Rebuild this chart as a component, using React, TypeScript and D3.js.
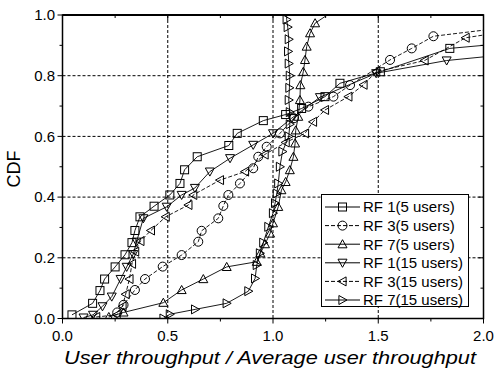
import React from "react";
import * as d3 from "d3";

const seriesNames = [
  "RF 1(5 users)",
  "RF 3(5 users)",
  "RF 7(5 users)",
  "RF 1(15 users)",
  "RF 3(15 users)",
  "RF 7(15 users)",
];

const rf1_5x = [0.045, 0.143, 0.178, 0.2, 0.25, 0.297, 0.33, 0.344, 0.368, 0.435, 0.51, 0.558, 0.58, 0.64, 0.79, 0.83, 0.954, 1.06, 1.136, 1.247, 1.318, 1.51, 1.84, 2.0];
const rf1_5y = [0.012, 0.05, 0.092, 0.13, 0.17, 0.21, 0.25, 0.29, 0.335, 0.37, 0.407, 0.445, 0.49, 0.533, 0.57, 0.61, 0.652, 0.672, 0.692, 0.731, 0.775, 0.813, 0.89, 0.9];

const rf3_5x = [0.26, 0.29, 0.344, 0.392, 0.476, 0.566, 0.645, 0.661, 0.74, 0.764, 0.788, 0.843, 0.906, 0.93, 0.97, 1.033, 1.1, 1.168, 1.287, 1.366, 1.556, 1.659, 1.762, 2.0];
const rf3_5y = [0.02, 0.045, 0.094, 0.13, 0.171, 0.209, 0.253, 0.289, 0.33, 0.371, 0.407, 0.445, 0.495, 0.533, 0.566, 0.61, 0.66, 0.698, 0.731, 0.769, 0.852, 0.89, 0.93, 0.95];

const rf7_5x = [0.22, 0.29, 0.479, 0.566, 0.669, 0.78, 0.923, 0.94, 0.962, 0.986, 1.0, 1.025, 1.04, 1.06, 1.08, 1.097, 1.105, 1.108, 1.12, 1.128, 1.13, 1.144, 1.152, 1.16, 1.176, 1.2, 1.258];
const rf7_5y = [0.005, 0.02, 0.052, 0.094, 0.13, 0.17, 0.187, 0.215, 0.245, 0.28, 0.314, 0.368, 0.423, 0.45, 0.489, 0.533, 0.577, 0.62, 0.665, 0.72, 0.769, 0.813, 0.852, 0.896, 0.94, 0.973, 1.0];

const rf1_15x = [0.1, 0.145, 0.19, 0.234, 0.276, 0.305, 0.336, 0.352, 0.384, 0.495, 0.566, 0.629, 0.7, 0.796, 0.906, 1.0, 1.089, 1.223, 1.49, 1.825, 2.0];
const rf1_15y = [0.003, 0.012, 0.04, 0.072, 0.13, 0.17, 0.212, 0.253, 0.33, 0.368, 0.407, 0.43, 0.484, 0.528, 0.572, 0.61, 0.66, 0.729, 0.808, 0.85, 0.862];

const rf3_15x = [0.16, 0.257, 0.285, 0.3, 0.318, 0.33, 0.345, 0.37, 0.42, 0.49, 0.598, 0.621, 0.748, 0.867, 0.96, 1.06, 1.152, 1.19, 1.247, 1.358, 1.43, 1.49, 1.72, 1.915, 2.0];
const rf3_15y = [0.005, 0.012, 0.04, 0.08, 0.13, 0.18, 0.22, 0.255, 0.29, 0.335, 0.374, 0.407, 0.456, 0.484, 0.54, 0.58, 0.61, 0.648, 0.687, 0.731, 0.77, 0.813, 0.85, 0.925, 0.934];

const rf7_15x = [0.48, 0.51, 0.63, 0.78, 0.883, 0.915, 0.923, 0.938, 0.954, 0.978, 1.0, 1.01, 1.018, 1.025, 1.033, 1.045, 1.075, 1.08, 1.08, 1.075, 1.078, 1.08, 1.075, 1.072, 1.075, 1.07, 1.065, 1.065];
const rf7_15y = [0.0, 0.014, 0.03, 0.05, 0.09, 0.132, 0.176, 0.215, 0.25, 0.302, 0.347, 0.38, 0.412, 0.445, 0.5, 0.55, 0.6, 0.64, 0.68, 0.72, 0.76, 0.8, 0.84, 0.88, 0.92, 0.96, 0.985, 1.0];

const seriesX = [rf1_5x, rf3_5x, rf7_5x, rf1_15x, rf3_15x, rf7_15x];
const seriesY = [rf1_5y, rf3_5y, rf7_5y, rf1_15y, rf3_15y, rf7_15y];
const markerKinds = ["square", "circle", "up", "down", "left", "right"];
const dashed = [false, true, false, false, true, false];

const xTicks = [0, 0.5, 1.0, 1.5, 2.0];
const xMinor = [0.25, 0.75, 1.25, 1.75];
const yTicks = [0, 0.2, 0.4, 0.6, 0.8, 1.0];
const yMinor = [0.1, 0.3, 0.5, 0.7, 0.9];

const W = 494, H = 372;
const L = 62.5, R = 483.5, T = 15, B = 318.5;

function Marker({ kind, x, y }: { kind: string; x: number; y: number }) {
  const s = 4.5;
  const common = { fill: "none", stroke: "#000", strokeWidth: 1 };
  if (kind === "square") return <rect x={x - 4} y={y - 4} width={8} height={8} {...common} />;
  if (kind === "circle") return <circle cx={x} cy={y} r={4.5} {...common} />;
  let pts: [number, number][] = [];
  if (kind === "up") pts = [[x, y - s], [x - s, y + s * 0.8], [x + s, y + s * 0.8]];
  if (kind === "down") pts = [[x, y + s], [x - s, y - s * 0.8], [x + s, y - s * 0.8]];
  if (kind === "left") pts = [[x - s, y], [x + s * 0.8, y - s], [x + s * 0.8, y + s]];
  if (kind === "right") pts = [[x + s, y], [x - s * 0.8, y - s], [x - s * 0.8, y + s]];
  return <polygon points={pts.map((p) => p.join(",")).join(" ")} {...common} />;
}

export default function App() {
  const x = d3.scaleLinear().domain([0, 2]).range([L, R]);
  const y = d3.scaleLinear().domain([0, 1]).range([B, T]);
  const line = d3
    .line<[number, number]>()
    .x((d) => x(d[0]))
    .y((d) => y(d[1]));
  const font = "Liberation Sans, Arial, sans-serif";

  return (
    <svg width={W} height={H} style={{ position: "absolute", left: 0, top: 0, background: "#fff" }} fontFamily={font}>
      <rect x={0} y={0} width={W} height={H} fill="#fff" />
      {/* grid */}
      {[0.5, 1.0, 1.5].map((v) => (
        <line key={"gx" + v} x1={x(v)} x2={x(v)} y1={T} y2={B} stroke="#000" strokeWidth={1} strokeDasharray="3,2" />
      ))}
      {[0.2, 0.4, 0.6, 0.8].map((v) => (
        <line key={"gy" + v} x1={L} x2={R} y1={y(v)} y2={y(v)} stroke="#000" strokeWidth={1} strokeDasharray="3,2" />
      ))}
      <defs>
        <clipPath id="plotclip">
          <rect x={L} y={T} width={R - L} height={B - T} />
        </clipPath>
      </defs>
      {/* series */}
      <g clipPath="url(#plotclip)">
        {seriesX.map((xs, i) => {
          const pts: [number, number][] = xs.map((v, j) => [v, seriesY[i][j]]);
          return (
            <g key={"s" + i}>
              <path d={line(pts) || ""} fill="none" stroke="#000" strokeWidth={0.9} strokeDasharray={dashed[i] ? "4,2" : undefined} />
              {pts
                .filter((p) => p[0] < 1.99 && p[1] < 0.999)
                .map((p, j) => (
                  <Marker key={j} kind={markerKinds[i]} x={x(p[0])} y={y(p[1])} />
                ))}
            </g>
          );
        })}
      </g>
      {/* frame */}
      <rect x={L} y={T} width={R - L} height={B - T} fill="none" stroke="#000" strokeWidth={1.5} />
      <line x1={L} x2={R} y1={T} y2={T} stroke="#000" strokeWidth={2} />
      {/* ticks */}
      {xTicks.map((v) => (
        <g key={"xt" + v}>
          <line x1={x(v)} x2={x(v)} y1={B} y2={B + 5} stroke="#000" />
          <line x1={x(v)} x2={x(v)} y1={T} y2={T + 5} stroke="#000" />
          <text x={x(v)} y={341} fontSize={15} textAnchor="middle">{v.toFixed(1)}</text>
        </g>
      ))}
      {xMinor.map((v) => (
        <g key={"xm" + v}>
          <line x1={x(v)} x2={x(v)} y1={B} y2={B + 3} stroke="#000" />
          <line x1={x(v)} x2={x(v)} y1={T} y2={T + 3} stroke="#000" />
        </g>
      ))}
      {yTicks.map((v) => (
        <g key={"yt" + v}>
          <line x1={L - 5} x2={L} y1={y(v)} y2={y(v)} stroke="#000" />
          <line x1={R - 5} x2={R} y1={y(v)} y2={y(v)} stroke="#000" />
          <text x={55} y={y(v)} dy="0.35em" fontSize={15} textAnchor="end">{v.toFixed(1)}</text>
        </g>
      ))}
      {yMinor.map((v) => (
        <g key={"ym" + v}>
          <line x1={L - 3} x2={L} y1={y(v)} y2={y(v)} stroke="#000" />
          <line x1={R - 3} x2={R} y1={y(v)} y2={y(v)} stroke="#000" />
        </g>
      ))}
      {/* axis titles */}
      <text x={270} y={364} fontSize={18} fontStyle="italic" textAnchor="middle" textLength={412} lengthAdjust="spacingAndGlyphs">
        User throughput / Average user throughput
      </text>
      <text transform="translate(20,169) rotate(-90)" fontSize={18} textAnchor="middle">CDF</text>
      {/* legend */}
      <rect x={321.5} y={194.5} width={147} height={112} fill="#fff" stroke="#000" strokeWidth={1} />
      {seriesNames.map((name, i) => {
        const ly = 207 + i * 18.6;
        return (
          <g key={"lg" + i}>
            <line x1={325} x2={360} y1={ly} y2={ly} stroke="#000" strokeWidth={1} strokeDasharray={dashed[i] ? "4,2" : undefined} />
            <Marker kind={markerKinds[i]} x={342.5} y={ly} />
            <text x={363} y={ly} dy="0.36em" fontSize={15}>{name}</text>
          </g>
        );
      })}
    </svg>
  );
}
